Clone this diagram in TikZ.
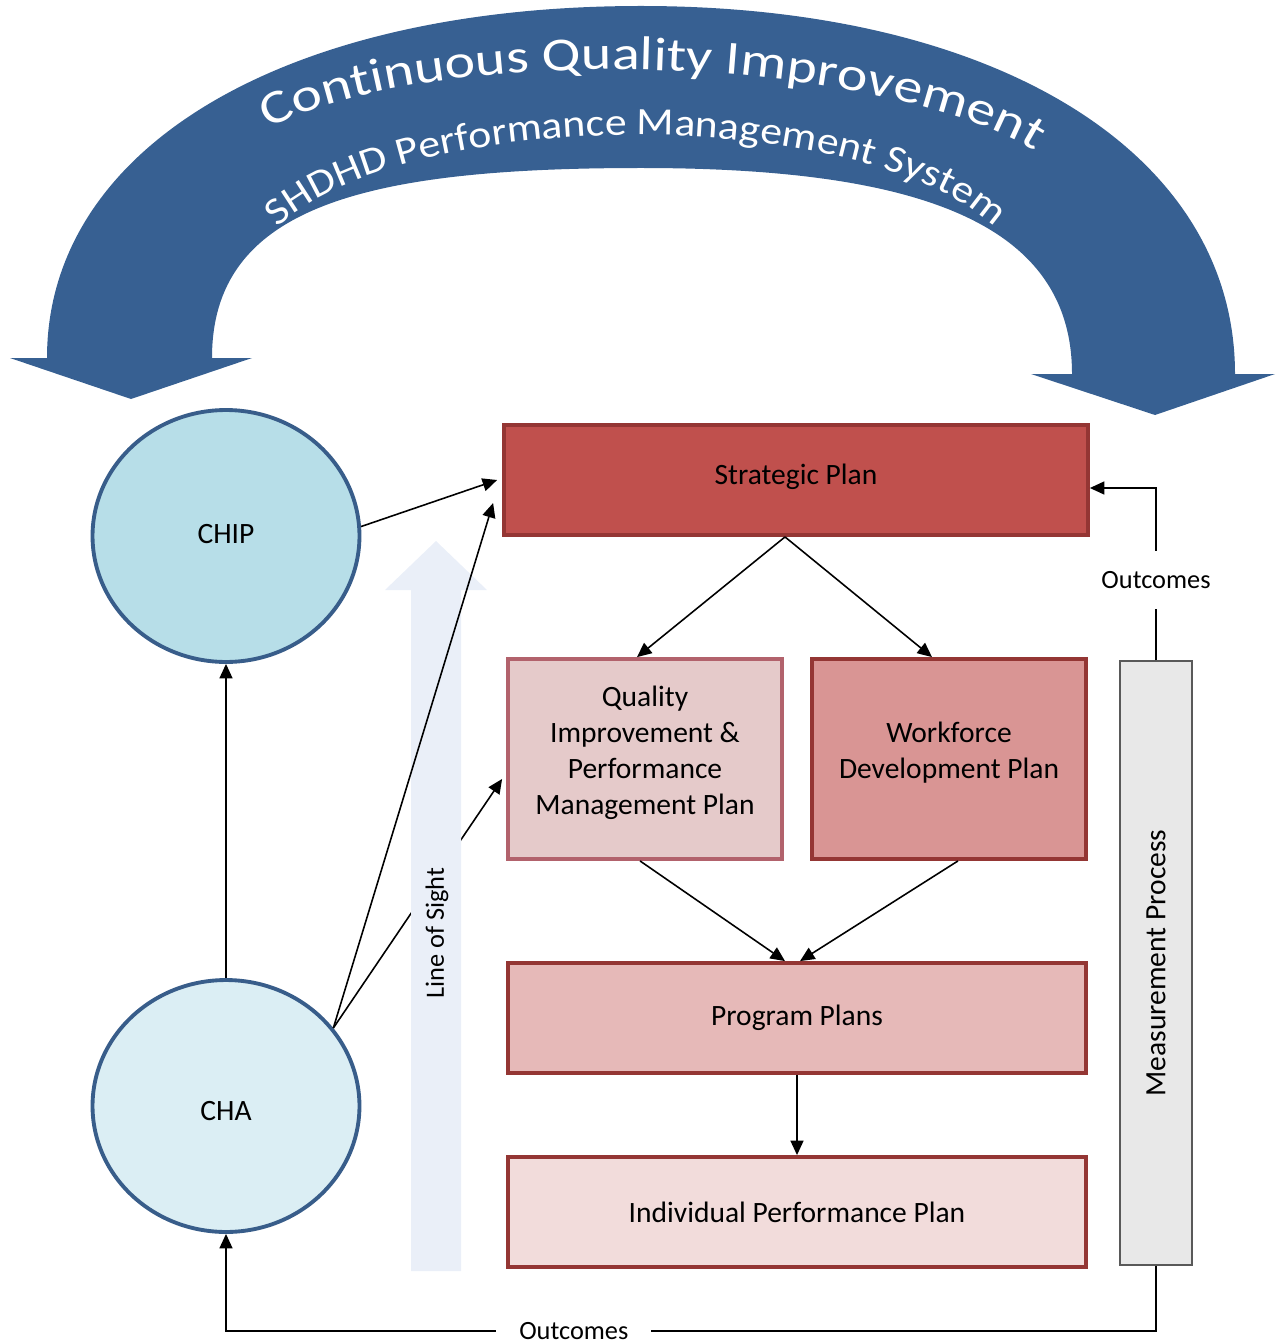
\documentclass[tikz,border=0pt]{standalone}
\usepackage{fontspec}
\setmainfont{Carlito}
\newfontfamily\arcA[FakeStretch=1.22]{Carlito}
\newfontfamily\arcB[FakeStretch=1.13]{Carlito}
\usetikzlibrary{arrows.meta,decorations.text,shapes.geometric,calc}
\definecolor{arcblue}{HTML}{376092}
\definecolor{circborder}{HTML}{385D8A}
\definecolor{chipfill}{HTML}{B7DEE8}
\definecolor{chafill}{HTML}{DBEEF4}
\definecolor{planborder}{HTML}{943634}
\definecolor{spfill}{HTML}{C0504D}
\definecolor{qifill}{HTML}{E5CACA}
\definecolor{qiborder}{HTML}{B2626C}
\definecolor{wffill}{HTML}{D99594}
\definecolor{ppfill}{HTML}{E6B9B8}
\definecolor{ipfill}{HTML}{F2DCDB}
\definecolor{mpfill}{HTML}{E8E8E8}
\definecolor{mpborder}{HTML}{595959}
\definecolor{losfill}{HTML}{EAEFF8}
\begin{document}
\begin{tikzpicture}[x=0.02cm,y=-0.02cm,
  conn/.style={draw=black, line width=0.9pt, -{Triangle[length=0.29cm,width=0.26cm]}},
  plan/.style={draw=planborder, line width=2.2pt, inner sep=0pt},
  plantext/.style={align=center, inner sep=0pt, font=\fontsize{16.8}{20.5}\selectfont},
  circ/.style={ellipse, draw=circborder, line width=2.2pt, minimum width=5.34cm, minimum height=5.04cm, inner sep=0pt},
  lbl/.style={fill=white, font=\fontsize{15}{18}\selectfont, inner sep=0pt}
]
\useasboundingbox (0,0) rectangle (1278,1341);

% big curved double arrow
\fill[arcblue] (10,358) -- (131,399) -- (252,358) -- (212,358)
  .. controls (212,208) and (361,168) .. (641,168)
  .. controls (921,168) and (1072,224) .. (1072,374)
  -- (1031,374) -- (1155,415) -- (1275,374) -- (1235,374)
  .. controls (1235,153) and (997,6) .. (641,6)
  .. controls (285,6) and (47,147) .. (47,358) -- cycle;

\path[decorate, decoration={text along path, text align=center, text color=white,
   text={|\fontsize{27}{32}\arcA|Continuous Quality Improvement}}]
  plot[domain=178:2, samples=90] ({651+432*cos(\x)},{200-130*sin(\x)+12*cos(\x)});
\path[decorate, decoration={text along path, text align=center, text color=white,
   text={|\fontsize{22}{26}\arcB|SHDHD Performance Management System}}]
  plot[domain=179:1, samples=90] ({636+385*cos(\x)},{280-145*sin(\x)});

% nodes
\node[circ, fill=chipfill] (chip) at (226,536) {};
\node[plantext] (chipt) at ($(chip.center)+(0,-2)$) {CHIP};
\node[circ, fill=chafill] (cha) at (226,1106) {};
\node[plantext] (chat) at ($(cha.center)+(0,5)$) {CHA};
\node[plan, fill=spfill, minimum width=11.68cm, minimum height=2.2cm] (sp) at (796,480) {};
\node[plantext] (spt) at ($(sp.center)+(0,-3)$) {Strategic Plan};
\node[plan, fill=qifill, draw=qiborder, minimum width=5.48cm, minimum height=4.0cm] (qi) at (645,759) {};
\node[plantext] (qit) at ($(qi.center)+(0,-6)$) {Quality\\Improvement \&\\Performance\\Management Plan};
\node[plan, fill=wffill, minimum width=5.48cm, minimum height=4.0cm] (wf) at (949,759) {};
\node[plantext] (wft) at ($(wf.center)+(0,-6)$) {Workforce\\Development Plan};
\node[plan, fill=ppfill, minimum width=11.56cm, minimum height=2.2cm] (pp) at (797,1018) {};
\node[plantext] (ppt) at (pp.center) {Program Plans};
\node[plan, fill=ipfill, minimum width=11.56cm, minimum height=2.2cm] (ip) at (797,1212) {};
\node[plantext] (ipt) at (ip.center) {Individual Performance Plan};
\node[draw=mpborder, fill=mpfill, line width=0.9pt, minimum width=1.44cm, minimum height=12.08cm, inner sep=0pt] (mp) at (1156,963) {};
\node[rotate=90, font=\fontsize{16.8}{19}\selectfont] (mpt) at (mp.center) {Measurement Process};

% connector hidden behind line of sight arrow
\draw[conn] (cha.36) -- ($(qi.west)+(-4,20)$);

% line of sight arrow
\fill[losfill] (411,1271) -- (411,590) -- (385,590) -- (436,541) -- (487,590) -- (461,590) -- (461,1271) -- cycle;
\node[rotate=90, font=\fontsize{15}{18}\selectfont] (los) at (437,933) {Line of Sight};

% connectors
\draw[conn] (chip.4) -- ($(sp.west)+(-5,0)$);
\draw[conn] (cha.36) -- ($(sp.west)+(-9,23)$);
\draw[conn] (cha.north) -- (chip.south);
\coordinate (spb) at ($(sp.south)+(-11,0)$);
\draw[conn] (spb) -- ($(qi.north)+(-8,0)$);
\draw[conn] (spb) -- ($(wf.north)+(-17,0)$);
\draw[conn] ($(qi.south)+(-5,0)$) -- ($(pp.north)+(-12,0)$);
\draw[conn] ($(wf.south)+(9,0)$) -- ($(pp.north)+(3,0)$);
\draw[conn] (pp.south) -- (ip.north);
\draw[conn] (mp.north) |- node[lbl, pos=0.233, inner ysep=0.4cm, inner xsep=1pt] {Outcomes} ($(sp.east)+(0,8)$);
\draw[conn] (mp.south) -- ++(0,65) -| node[lbl, pos=0.313, inner xsep=0.46cm, inner ysep=1pt] {Outcomes} (cha.south);
\end{tikzpicture}
\end{document}
